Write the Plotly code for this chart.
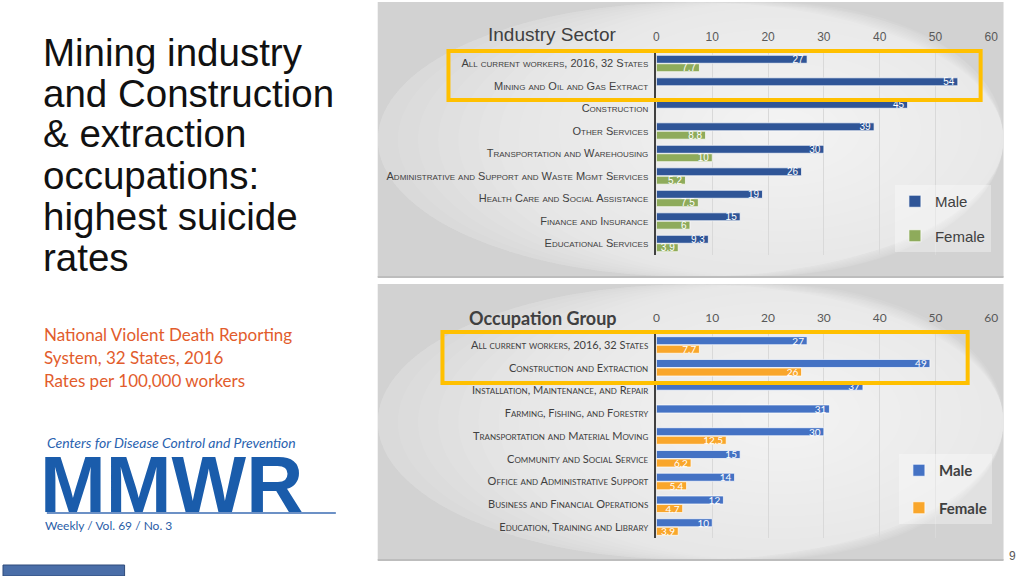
import plotly.graph_objects as go

# ---------------- data ----------------
industry_cats = [
    "All current workers, 2016, 32 States",
    "Mining and Oil and Gas Extract",
    "Construction",
    "Other Services",
    "Transportation and Warehousing",
    "Administrative and Support and Waste Mgmt Services",
    "Health Care and Social Assistance",
    "Finance and Insurance",
    "Educational Services",
]
industry_male = [27, 54, 45, 39, 30, 26, 19, 15, 9.3]
industry_female = [7.7, None, None, 8.8, 10, 5.2, 7.5, 6, 3.9]

occupation_cats = [
    "All current workers, 2016, 32 States",
    "Construction and Extraction",
    "Installation, Maintenance, and Repair",
    "Farming, Fishing, and Forestry",
    "Transportation and Material Moving",
    "Community and Social Service",
    "Office and Administrative Support",
    "Business and Financial Operations",
    "Education, Training and Library",
]
occupation_male = [27, 49, 37, 31, 30, 15, 14, 12, 10]
occupation_female = [7.7, 26, None, None, 12.5, 6.2, 5.4, 4.7, 3.9]

x_ticks = [0, 10, 20, 30, 40, 50, 60]

title_lines = ["Mining industry", "and Construction", "& extraction",
               "occupations:", "highest suicide", "rates"]
source_lines = ["National Violent Death Reporting", "System, 32 States, 2016",
                "Rates per 100,000 workers"]

# ---------------- helpers ----------------
W, H = 1024, 576
WX = 1017.5  # effective horizontal pixel scale of the captured page
def X(px):
    return min(1.0, px / WX)
def Y(py):
    return 1 - py / H

NARROW = "Liberation Sans Narrow, Arial Narrow, Liberation Sans, sans-serif"
CAL = "Lato, Carlito, Calibri, Open Sans, sans-serif"

fig = go.Figure()

def fmt(v):
    if v is None:
        return ""
    return ("%g" % v)

def bar(cats, vals, name, color, font, xa, ya, leg, grp):
    return go.Bar(
        y=cats, x=vals, orientation="h", name=name,
        marker=dict(color=color, line=dict(color="rgba(255,255,255,0.7)", width=1)),
        text=[fmt(v) for v in vals], textposition="inside", insidetextanchor="end",
        textangle=0, cliponaxis=False,
        textfont=dict(color="white", size=10, family=font),
        xaxis=xa, yaxis=ya, legend=leg, legendgroup=grp,
    )

fig.add_trace(bar(industry_cats, industry_male, "Male", "#2F5597", "Liberation Sans, Arial", "x", "y", "legend", "m1"))
fig.add_trace(bar(industry_cats, industry_female, "Female", "#8EAB5B", "Liberation Sans, Arial", "x", "y", "legend", "f1"))
fig.add_trace(bar(occupation_cats, occupation_male, "Male", "#4472C4", CAL, "x2", "y2", "legend2", "m2"))
fig.add_trace(bar(occupation_cats, occupation_female, "Female", "#F9A62B", CAL, "x2", "y2", "legend2", "f2"))

xdom = [X(655.7), X(991.7)]

def xax(font, anchor):
    return dict(
        domain=xdom, range=[0, 60], side="top", tickvals=x_ticks,
        showgrid=True, gridcolor="#D9D9D9", gridwidth=1, zeroline=False,
        showline=False, ticks="", ticklabelstandoff=8,
        tickfont=dict(family=font, size=12, color="#595959"),
        anchor=anchor, fixedrange=True,
    )

def yax(cats, font, size, dom, anchor):
    return dict(
        domain=dom, categoryorder="array", categoryarray=cats, autorange="reversed",
        showline=True, linecolor="#404040", linewidth=2, showgrid=False,
        ticks="", ticklabelstandoff=4,
        tickfont=dict(family=font, size=size, color="#404040", variant="small-caps"),
        anchor=anchor, fixedrange=True,
    )

shapes = []
annotations = []

# panel backgrounds with pseudo radial gradient
def panel(x0, y0, x1, y1, cx, cy):
    shapes.append(dict(type="rect", xref="paper", yref="paper", x0=X(x0), x1=X(x1),
                       y0=Y(y1), y1=Y(y0), fillcolor="#D2D2D2", line=dict(width=0), layer="below"))
    n = 22
    for i in range(n):
        f = 1 - i / n
        rx = max(cx - x0, x1 - cx) * 1.1 * f
        ry = (y1 - y0) * 0.9 * f
        ex0, ex1 = max(x0, cx - rx), min(x1, cx + rx)
        ey0, ey1 = max(y0, cy - ry), min(y1, cy + ry)
        shapes.append(dict(type="circle", xref="paper", yref="paper",
                           x0=X(ex0), x1=X(ex1), y0=Y(ey1), y1=Y(ey0),
                           fillcolor="white", opacity=0.075, line=dict(width=0), layer="below"))
    shapes.append(dict(type="line", xref="paper", yref="paper", x0=X(x0), x1=X(x1),
                       y0=Y(y1), y1=Y(y1), line=dict(color="#BDBDBD", width=2), layer="below"))

panel(376, 2, 1004, 277, 780, 130)
panel(376, 284, 1004, 560, 780, 415)

# yellow highlight boxes
shapes.append(dict(type="rect", xref="paper", yref="paper", x0=X(447), x1=X(981),
                   y0=Y(100), y1=Y(51), line=dict(color="#FFC000", width=4)))
shapes.append(dict(type="rect", xref="paper", yref="paper", x0=X(441), x1=X(968),
                   y0=Y(383), y1=Y(332), line=dict(color="#FFC000", width=4)))

# MMWR rule line
shapes.append(dict(type="line", xref="paper", yref="paper", x0=X(44), x1=X(334),
                   y0=Y(513), y1=Y(513), line=dict(color="#3B6DB3", width=1.5)))
# bottom-left blue box
shapes.append(dict(type="rect", xref="paper", yref="paper", x0=X(0), x1=X(122),
                   y0=Y(576), y1=Y(565), fillcolor="#4A6EA8", line=dict(color="#2F4A7A", width=1)))

# chart titles
annotations.append(dict(text="Industry Sector", x=X(617), y=Y(35), xref="paper", yref="paper",
                        xanchor="right", yanchor="middle", showarrow=False,
                        font=dict(family=NARROW, size=19, color="#404040")))
annotations.append(dict(text="<b>Occupation Group</b>", x=X(618), y=Y(318), xref="paper", yref="paper",
                        xanchor="right", yanchor="middle", showarrow=False,
                        font=dict(family=CAL, size=18, color="#404040")))

# left title
for i, line in enumerate(title_lines):
    annotations.append(dict(text=line, x=X(38), y=Y(52 + 41 * i), xref="paper", yref="paper",
                            xanchor="left", yanchor="middle", showarrow=False,
                            font=dict(family="Liberation Sans, Arial", size=38.5, color="#111111")))
# source text
for i, line in enumerate(source_lines):
    annotations.append(dict(text=line, x=X(39), y=Y(334 + 23.3 * i), xref="paper", yref="paper",
                            xanchor="left", yanchor="middle", showarrow=False,
                            font=dict(family=CAL, size=17, color="#E25C2C")))

# MMWR logo texts
annotations.append(dict(text="<i>Centers for Disease Control and Prevention</i>", x=X(42), y=Y(442),
                        xref="paper", yref="paper", xanchor="left", yanchor="middle", showarrow=False,
                        font=dict(family=CAL, size=14, color="#2A63B0")))
annotations.append(dict(text="<b>MMWR</b>", x=X(35), y=Y(484), xref="paper", yref="paper",
                        xanchor="left", yanchor="middle", showarrow=False,
                        font=dict(family="Liberation Sans, Arial", size=79, color="#1A5CAB")))
annotations.append(dict(text="Weekly / Vol. 69 / No. 3", x=X(40), y=Y(525), xref="paper", yref="paper",
                        xanchor="left", yanchor="middle", showarrow=False,
                        font=dict(family=CAL, size=12, color="#2A5DA6")))
# page number
annotations.append(dict(text="9", x=X(1013), y=Y(556), xref="paper", yref="paper",
                        xanchor="center", yanchor="middle", showarrow=False,
                        font=dict(family="Liberation Sans, Arial", size=12, color="#595959")))

fig.update_layout(
    width=W, height=H, autosize=False, margin=dict(l=0, r=0, t=0, b=0),
    paper_bgcolor="white", plot_bgcolor="rgba(0,0,0,0)",
    barmode="group", bargap=0.25, bargroupgap=0.06,
    uniformtext=dict(mode="show", minsize=9),
    xaxis=xax(NARROW, "y"),
    yaxis=yax(industry_cats, NARROW, 11, [Y(254.75), Y(52.25)], "x"),
    xaxis2=xax(CAL, "y2"),
    yaxis2=yax(occupation_cats, CAL, 11, [Y(538.4), Y(333.6)], "x2"),
    legend=dict(x=X(895), y=Y(185), xanchor="left", yanchor="top",
                bgcolor="rgba(255,255,255,0.35)", traceorder="grouped", tracegroupgap=12,
                font=dict(family=NARROW, size=15, color="#404040"), itemwidth=30),
    legend2=dict(x=X(899), y=Y(454), xanchor="left", yanchor="top",
                 bgcolor="rgba(255,255,255,0.35)", traceorder="grouped", tracegroupgap=15,
                 font=dict(family=CAL, size=15, color="#404040", weight="bold"), itemwidth=30),
    shapes=shapes, annotations=annotations,
    showlegend=True,
)

fig.write_html(
    "out.html",
    config={"responsive": False, "displayModeBar": False},
    post_script="document.body.style.margin='0';document.body.style.overflow='hidden';",
)
